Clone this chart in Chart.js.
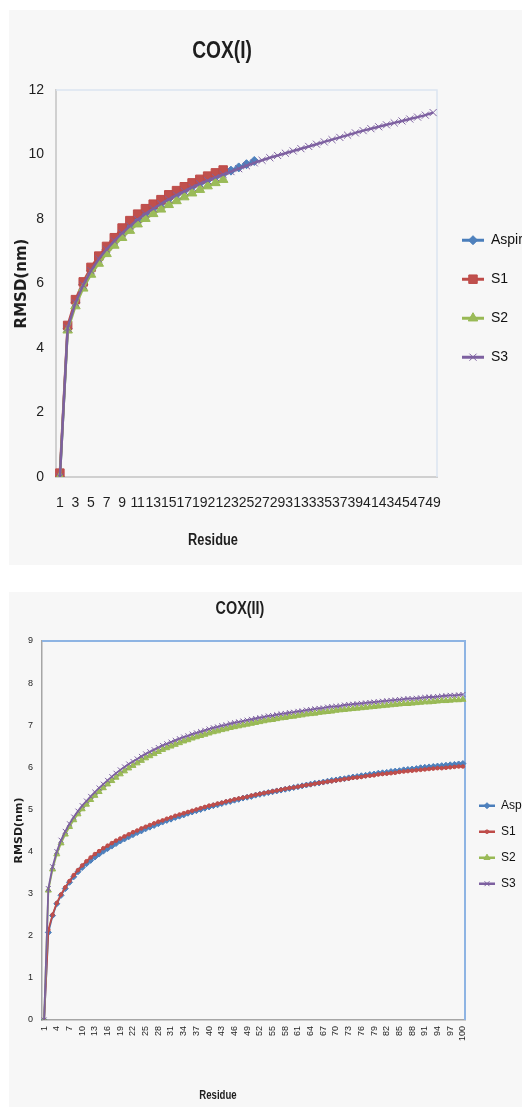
<!DOCTYPE html>
<html>
<head>
<meta charset="utf-8">
<script src="https://cdn.jsdelivr.net/npm/chart.js@4.4.0/dist/chart.umd.min.js"></script>
<style>
  html, body { margin: 0; padding: 0; background: #fff; width: 522px; height: 1107px; overflow: hidden; position: relative; }
  .panel { position: absolute; left: 9px; width: 513px; background: #f7f7f7; overflow: hidden; }
  #p1 { top: 10px; height: 555px; }
  #p2 { top: 592px; height: 515px; }
  canvas { position: absolute; left: 0; top: 0; }
  .lbl { position: absolute; left: 0; text-align: center; font-family: 'Liberation Sans', Arial, sans-serif; font-weight: bold; color: #1e1e1e; transform: scaleX(0.8); }
</style>
</head>
<body>
<div class="panel" id="p1"><canvas id="cox1" width="620" height="555"></canvas></div>
<div class="panel" id="p2"><canvas id="cox2" width="620" height="515"></canvas></div>
<div class="lbl" style="top:34px; width:444px; font-size:24px; line-height:32px;">COX(I)</div>
<div class="lbl" style="top:530px; width:426px; font-size:16px; line-height:20px;">Residue</div>
<div class="lbl" style="top:596px; width:480px; font-size:18px; line-height:24px;">COX(II)</div>
<div class="lbl" style="top:1087px; width:436px; font-size:12px; line-height:16px;">Residue</div>
<script>
// COX(I) - residues 1..49
const topLabels = Array.from({ length: 49 }, (_, i) => String(i + 1));
const topAspirin = [0, 4.60, 5.42, 5.97, 6.40, 6.76, 7.06, 7.33, 7.58, 7.80,
  8.00, 8.18, 8.34, 8.49, 8.63, 8.76, 8.88, 9.00, 9.11, 9.21,
  9.31, 9.40, 9.50, 9.60, 9.70, 9.80];
const topS1 = [0.12, 4.70, 5.50, 6.05, 6.50, 6.85, 7.15, 7.42, 7.72, 7.95,
  8.15, 8.32, 8.46, 8.60, 8.75, 8.88, 9.00, 9.12, 9.23, 9.33,
  9.43, 9.52];
const topS2 = [0, 4.55, 5.30, 5.85, 6.28, 6.62, 6.92, 7.18, 7.42, 7.64,
  7.84, 8.01, 8.16, 8.30, 8.44, 8.56, 8.68, 8.80, 8.91, 9.02,
  9.12, 9.22];
const topS3 = [0, 4.62, 5.40, 5.95, 6.40, 6.76, 7.06, 7.32, 7.56, 7.78,
  7.98, 8.16, 8.32, 8.47, 8.61, 8.74, 8.86, 8.98, 9.09, 9.19,
  9.29, 9.38, 9.47, 9.56, 9.65, 9.74, 9.82, 9.90, 9.97, 10.04,
  10.11, 10.18, 10.25, 10.32, 10.39, 10.46, 10.53, 10.60, 10.67, 10.74,
  10.80, 10.86, 10.92, 10.98, 11.04, 11.10, 11.16, 11.22, 11.30];
const topYTicks = { min: 0, max: 12, step: 2 };

// COX(II) - residues 1..100
const botLabels = Array.from({ length: 100 }, (_, i) => String(i + 1));
const botAspirin = [0, 2.08, 2.48, 2.76, 2.96, 3.12, 3.27, 3.40, 3.52, 3.62,
  3.71, 3.79, 3.87, 3.94, 4.01, 4.07, 4.13, 4.19, 4.25, 4.30,
  4.35, 4.40, 4.45, 4.49, 4.54, 4.58, 4.62, 4.66, 4.70, 4.74,
  4.77, 4.81, 4.84, 4.87, 4.91, 4.94, 4.97, 5.00, 5.03, 5.06,
  5.09, 5.11, 5.14, 5.17, 5.19, 5.22, 5.24, 5.27, 5.29, 5.31,
  5.34, 5.36, 5.38, 5.40, 5.42, 5.44, 5.46, 5.48, 5.50, 5.52,
  5.54, 5.56, 5.58, 5.60, 5.62, 5.63, 5.65, 5.67, 5.69, 5.70,
  5.72, 5.73, 5.75, 5.77, 5.78, 5.80, 5.81, 5.83, 5.84, 5.86,
  5.87, 5.88, 5.90, 5.91, 5.92, 5.94, 5.95, 5.96, 5.97, 5.99,
  6.00, 6.01, 6.02, 6.03, 6.04, 6.05, 6.06, 6.07, 6.08, 6.09];
const botS1 = [0, 2.14, 2.50, 2.78, 2.98, 3.15, 3.30, 3.44, 3.56, 3.67,
  3.77, 3.86, 3.94, 4.01, 4.08, 4.14, 4.20, 4.26, 4.31, 4.36,
  4.41, 4.46, 4.50, 4.55, 4.59, 4.63, 4.67, 4.71, 4.74, 4.78,
  4.81, 4.85, 4.88, 4.91, 4.94, 4.97, 5.00, 5.03, 5.06, 5.09,
  5.11, 5.14, 5.16, 5.19, 5.21, 5.24, 5.26, 5.28, 5.30, 5.33,
  5.35, 5.37, 5.39, 5.41, 5.43, 5.45, 5.47, 5.49, 5.51, 5.52,
  5.54, 5.56, 5.58, 5.59, 5.61, 5.63, 5.64, 5.66, 5.67, 5.69,
  5.70, 5.72, 5.73, 5.75, 5.76, 5.77, 5.79, 5.80, 5.81, 5.83,
  5.84, 5.85, 5.86, 5.87, 5.89, 5.90, 5.91, 5.92, 5.93, 5.94,
  5.95, 5.96, 5.97, 5.98, 5.98, 5.99, 6.00, 6.01, 6.02, 6.02];
const botS2 = [0, 3.08, 3.58, 3.94, 4.20, 4.41, 4.59, 4.75, 4.89, 5.01,
  5.12, 5.23, 5.33, 5.42, 5.51, 5.60, 5.68, 5.76, 5.84, 5.91,
  5.98, 6.04, 6.10, 6.16, 6.22, 6.27, 6.32, 6.37, 6.42, 6.46,
  6.50, 6.54, 6.58, 6.62, 6.65, 6.69, 6.72, 6.75, 6.78, 6.81,
  6.84, 6.86, 6.89, 6.91, 6.94, 6.96, 6.98, 7.00, 7.02, 7.04,
  7.06, 7.08, 7.10, 7.12, 7.13, 7.15, 7.17, 7.18, 7.20, 7.21,
  7.23, 7.24, 7.26, 7.27, 7.28, 7.30, 7.31, 7.32, 7.33, 7.35,
  7.36, 7.37, 7.38, 7.39, 7.40, 7.41, 7.42, 7.43, 7.44, 7.45,
  7.46, 7.47, 7.48, 7.49, 7.50, 7.51, 7.51, 7.52, 7.53, 7.54,
  7.55, 7.55, 7.56, 7.57, 7.58, 7.58, 7.59, 7.60, 7.60, 7.61];
const botS3 = [0, 3.12, 3.64, 4.00, 4.27, 4.48, 4.66, 4.82, 4.96, 5.09,
  5.20, 5.31, 5.41, 5.51, 5.60, 5.69, 5.78, 5.86, 5.94, 6.01,
  6.08, 6.14, 6.20, 6.26, 6.32, 6.37, 6.42, 6.47, 6.52, 6.56,
  6.60, 6.64, 6.68, 6.72, 6.75, 6.79, 6.82, 6.85, 6.88, 6.91,
  6.94, 6.96, 6.99, 7.01, 7.04, 7.06, 7.08, 7.10, 7.12, 7.14,
  7.16, 7.18, 7.20, 7.22, 7.23, 7.25, 7.27, 7.28, 7.30, 7.31,
  7.33, 7.34, 7.36, 7.37, 7.39, 7.40, 7.41, 7.43, 7.44, 7.45,
  7.46, 7.48, 7.49, 7.50, 7.51, 7.52, 7.53, 7.54, 7.55, 7.56,
  7.57, 7.58, 7.59, 7.60, 7.61, 7.62, 7.63, 7.63, 7.64, 7.65,
  7.66, 7.67, 7.67, 7.68, 7.69, 7.70, 7.71, 7.71, 7.72, 7.73];
const botYTicks = { min: 0, max: 9, step: 1 };

const seriesNames = ['Aspirin', 'S1', 'S2', 'S3'];

const SANS = "'Liberation Sans', Arial, sans-serif";
const WIDE = "'DejaVu Sans', 'Liberation Sans', sans-serif";
Chart.defaults.font.family = SANS;
Chart.defaults.color = '#1e1e1e';

const line = ['#4a7ebb', '#be4b48', '#98b954', '#7d60a0'];
const fill = ['#4f81bd', '#c0504d', '#9bbb59', '#8064a2'];

function series(i, data, style, radius, width) {
    return {
        label: seriesNames[i],
        data: data,
        borderColor: line[i],
        backgroundColor: fill[i],
        borderWidth: width,
        pointStyle: style,
        pointRadius: radius,
        pointHoverRadius: radius,
        pointBackgroundColor: fill[i],
        pointBorderColor: line[i],
        pointBorderWidth: 1,
        tension: 0,
        order: 3 - i   // S3 drawn on top
    };
}

// top and right edge of the plot area
const frame = {
    id: 'frame',
    beforeDatasetsDraw(chart, args, opts) {
        const a = chart.chartArea;
        const ctx = chart.ctx;
        ctx.save();
        ctx.strokeStyle = opts.color;
        ctx.lineWidth = opts.width;
        ctx.beginPath();
        ctx.moveTo(a.left, a.top);
        ctx.lineTo(a.right, a.top);
        ctx.lineTo(a.right, a.bottom);
        ctx.stroke();
        ctx.restore();
    }
};

// put each series' marker on top of its legend line
const legendMarks = {
    id: 'legendMarks',
    afterDraw(chart) {
        const lg = chart.legend;
        if (!lg || !lg.legendHitBoxes || !Chart.helpers) return;
        const ctx = chart.ctx;
        const w = lg.options.labels.pointStyleWidth;
        lg.legendItems.forEach((item, i) => {
            const box = lg.legendHitBoxes[i];
            const ds = chart.data.datasets[item.datasetIndex];
            ctx.save();
            ctx.fillStyle = ds.pointBackgroundColor;
            ctx.strokeStyle = ds.pointBorderColor;
            ctx.lineWidth = ds.pointBorderWidth;
            Chart.helpers.drawPoint(ctx, {
                pointStyle: ds.pointStyle, radius: ds.pointRadius,
                borderWidth: ds.pointBorderWidth, rotation: 0
            }, box.left + w / 2, box.top + box.height / 2);
            ctx.restore();
        });
    }
};

function buildOptions(s) {
    return {
        responsive: false,
        animation: false,
        layout: { padding: { top: s.top, right: 0, left: 0, bottom: 0 } },
        plugins: {
            title: { display: false },
            tooltip: { enabled: false },
            frame: { color: s.frameColor, width: s.frameWidth },
            legend: {
                position: 'right',
                fullSize: false,
                title: { display: true, text: '', padding: s.legendShift },
                labels: {
                    usePointStyle: true,
                    pointStyleWidth: s.legendLine,
                    padding: s.legendPad,
                    color: '#111',
                    font: { size: s.legendFont },
                    generateLabels: (chart) => chart.data.datasets.map((ds, i) => ({
                        text: ds.label,
                        datasetIndex: i,
                        pointStyle: 'line',
                        strokeStyle: ds.borderColor,
                        fillStyle: ds.borderColor,
                        lineWidth: s.legendLineWidth,
                        hidden: false,
                        fontColor: '#111'
                    }))
                }
            }
        },
        scales: {
            x: {
                type: 'category',
                offset: true,
                afterFit: (scale) => { scale.height = s.xHeight; },
                grid: { display: false, drawTicks: false },
                border: { display: true, color: s.axisColor, width: s.axisWidth },
                ticks: {
                    autoSkip: false,
                    minRotation: s.xRot,
                    maxRotation: s.xRot,
                    padding: s.xPad,
                    font: { size: s.xFont },
                    callback: function (v, i) { return i % s.every === 0 ? this.getLabelForValue(v) : ''; }
                }
            },
            y: {
                min: s.y.min,
                max: s.y.max,
                afterFit: (scale) => { scale.width = s.yWidth; },
                grid: { display: false, drawTicks: false },
                border: { display: true, color: s.axisColor, width: s.axisWidth },
                ticks: { stepSize: s.y.step, padding: s.yPad, font: { size: s.yFont } },
                title: {
                    display: true,
                    text: 'RMSD(nm)',
                    color: '#1e1e1e',
                    padding: { top: s.yTitlePad, bottom: 0 },
                    font: { family: WIDE, size: s.yTitleFont, weight: 'bold' }
                }
            }
        }
    };
}

// move the legend left until the plot area ends where the reference's does
function pinRight(chart, target) {
    const dx = chart.chartArea.right - target;
    chart.options.layout.padding.right += dx;
    chart.update();
}

const chart1 = new Chart(document.getElementById('cox1'), {
    type: 'line',
    data: {
        labels: topLabels,
        datasets: [
            series(0, topAspirin, 'rectRot', 4.5, 2.5),
            series(1, topS1, 'rect', 6, 2.5),
            series(2, topS2, 'triangle', 5.5, 2.5),
            series(3, topS3, 'crossRot', 5, 2.5)
        ]
    },
    options: buildOptions({
        top: 80, xHeight: 88, yWidth: 47,
        xRot: 0, xPad: 18, xFont: 14, every: 2,
        y: topYTicks, yPad: 12, yFont: 14,
        yTitlePad: 4, yTitleFont: 15,
        axisColor: '#d0d0d0', axisWidth: 2,
        frameColor: '#dbe5f1', frameWidth: 1.5,
        legendFont: 14, legendPad: 25, legendLine: 22, legendLineWidth: 3, legendShift: 8
    }),
    plugins: [frame, legendMarks]
});
pinRight(chart1, 428);

const chart2 = new Chart(document.getElementById('cox2'), {
    type: 'line',
    data: {
        labels: botLabels,
        datasets: [
            series(0, botAspirin, 'rectRot', 3, 1.8),
            series(1, botS1, 'circle', 1.8, 1.8),
            series(2, botS2, 'triangle', 3.5, 1.8),
            series(3, botS3, 'crossRot', 3.5, 1.8)
        ]
    },
    options: buildOptions({
        top: 49, xHeight: 87, yWidth: 33,
        xRot: 90, xPad: 6, xFont: 9, every: 3,
        y: botYTicks, yPad: 9, yFont: 9,
        yTitlePad: 4, yTitleFont: 11,
        axisColor: '#a6a6a6', axisWidth: 1.5,
        frameColor: '#8eb4e3', frameWidth: 2,
        legendFont: 12, legendPad: 14, legendLine: 16, legendLineWidth: 2.5, legendShift: 7
    }),
    plugins: [frame, legendMarks]
});
pinRight(chart2, 456);
</script>
</body>
</html>
